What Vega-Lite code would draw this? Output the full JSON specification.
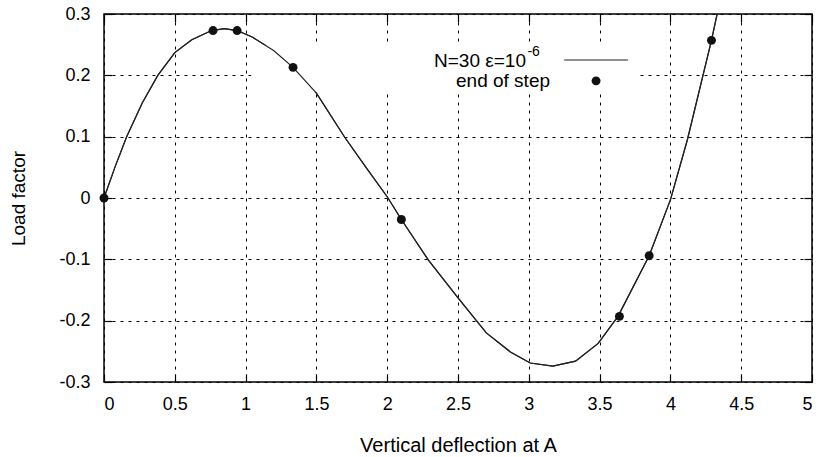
{
  "$schema": "https://vega.github.io/schema/vega-lite/v6.json",
  "width": 708,
  "height": 368,
  "autosize": "none",
  "padding": {"left": 104, "top": 14, "right": 6, "bottom": 75},
  "background": "white",
  "config": {
    "font": "Liberation Sans",
    "view": {"stroke": "black", "strokeWidth": 1.5},
    "axis": {
      "labelFont": "Liberation Sans",
      "titleFont": "Liberation Sans",
      "labelFontSize": 18,
      "titleFontSize": 19,
      "titleFontWeight": "normal",
      "labelColor": "black",
      "titleColor": "black",
      "domain": false,
      "tickColor": "black",
      "tickSize": -8,
      "tickWidth": 1.2,
      "grid": true,
      "gridColor": "black",
      "gridDash": [3, 5],
      "gridWidth": 1,
      "gridOpacity": 1
    }
  },
  "resolve": {"axis": {"x": "independent", "y": "independent"}},
  "datasets": {
    "curve": [
      {"d": 0, "lf": 0},
      {"d": 0.08, "lf": 0.052},
      {"d": 0.16, "lf": 0.1},
      {"d": 0.27, "lf": 0.155},
      {"d": 0.38, "lf": 0.2},
      {"d": 0.5, "lf": 0.237},
      {"d": 0.62, "lf": 0.258},
      {"d": 0.76, "lf": 0.273},
      {"d": 0.85, "lf": 0.276},
      {"d": 0.94, "lf": 0.273},
      {"d": 1.05, "lf": 0.262},
      {"d": 1.2, "lf": 0.24},
      {"d": 1.335, "lf": 0.213},
      {"d": 1.5, "lf": 0.171},
      {"d": 1.7, "lf": 0.099},
      {"d": 1.85, "lf": 0.05},
      {"d": 2.0, "lf": 0.002},
      {"d": 2.1, "lf": -0.035},
      {"d": 2.29, "lf": -0.101},
      {"d": 2.5, "lf": -0.163},
      {"d": 2.7, "lf": -0.22},
      {"d": 2.87, "lf": -0.251},
      {"d": 3.01, "lf": -0.269},
      {"d": 3.17, "lf": -0.274},
      {"d": 3.33, "lf": -0.266},
      {"d": 3.49, "lf": -0.237},
      {"d": 3.63, "lf": -0.193},
      {"d": 3.85, "lf": -0.094},
      {"d": 4.0, "lf": -0.003},
      {"d": 4.12, "lf": 0.095},
      {"d": 4.29, "lf": 0.257},
      {"d": 4.33, "lf": 0.3}
    ],
    "steps": [
      {"d": 0, "lf": 0},
      {"d": 0.77, "lf": 0.273},
      {"d": 0.94, "lf": 0.273},
      {"d": 1.335, "lf": 0.213},
      {"d": 2.1, "lf": -0.035},
      {"d": 3.64, "lf": -0.193},
      {"d": 3.85, "lf": -0.094},
      {"d": 4.29, "lf": 0.257}
    ],
    "keyBox": [{"x1": 1.04, "x2": 3.78, "y1": 0.249, "y2": 0.173}],
    "legendLine": [{"x1": 3.25, "x2": 3.7, "y": 0.225}],
    "legendDot": [{"x": 3.475, "y": 0.191}],
    "legendText": [
      {"x": 2.98, "y": 0.2137, "t": "N=30 ε=10"},
      {"x": 3.15, "y": 0.181, "t": "end of step"}
    ],
    "legendSup": [{"x": 2.99, "y": 0.232, "t": "-6"}]
  },
  "layer": [
    {
      "data": {"name": "curve"},
      "mark": {"type": "line", "color": "#222", "strokeWidth": 1.2, "clip": true},
      "encoding": {
        "x": {
          "field": "d", "type": "quantitative",
          "scale": {"domain": [0, 5], "nice": false, "zero": false},
          "axis": {
            "title": "Vertical deflection at A",
            "titleFontSize": 20,
            "values": [0, 0.5, 1, 1.5, 2, 2.5, 3, 3.5, 4, 4.5, 5],
            "labelExpr": "format(datum.value, '~g')",
            "labelPadding": 21,
            "titlePadding": 22
          }
        },
        "y": {
          "field": "lf", "type": "quantitative",
          "scale": {"domain": [-0.3, 0.3], "nice": false, "zero": false},
          "axis": {
            "title": "Load factor",
            "values": [-0.3, -0.2, -0.1, 0, 0.1, 0.2, 0.3],
            "labelExpr": "replace(format(datum.value, '~g'), '\u2212', '-')",
            "labelPadding": 22,
            "titlePadding": 30
          }
        }
      }
    },
    {
      "data": {"name": "keyBox"},
      "mark": {"type": "rect", "color": "white", "opacity": 1},
      "encoding": {
        "x": {"field": "x1", "type": "quantitative", "axis": null},
        "x2": {"field": "x2"},
        "y": {"field": "y1", "type": "quantitative", "axis": null},
        "y2": {"field": "y2"}
      }
    },
    {
      "data": {"name": "curve"},
      "mark": {"type": "line", "color": "#222", "strokeWidth": 1.2, "clip": true},
      "encoding": {
        "x": {"field": "d", "type": "quantitative", "axis": null},
        "y": {"field": "lf", "type": "quantitative", "axis": null}
      }
    },
    {
      "data": {"name": "steps"},
      "mark": {"type": "point", "filled": true, "color": "#111", "opacity": 1, "size": 80},
      "encoding": {
        "x": {"field": "d", "type": "quantitative", "axis": {"orient": "top", "labels": false, "title": null, "grid": false, "values": [0, 0.5, 1, 1.5, 2, 2.5, 3, 3.5, 4, 4.5, 5]}},
        "y": {"field": "lf", "type": "quantitative", "axis": {"orient": "right", "labels": false, "title": null, "grid": false, "values": [-0.3, -0.2, -0.1, 0, 0.1, 0.2, 0.3]}}
      }
    },
    {
      "data": {"name": "legendLine"},
      "mark": {"type": "rule", "color": "#222", "strokeWidth": 1.2},
      "encoding": {
        "x": {"field": "x1", "type": "quantitative", "axis": null},
        "x2": {"field": "x2"},
        "y": {"field": "y", "type": "quantitative", "axis": null}
      }
    },
    {
      "data": {"name": "legendDot"},
      "mark": {"type": "point", "filled": true, "color": "#111", "opacity": 1, "size": 80},
      "encoding": {
        "x": {"field": "x", "type": "quantitative", "axis": null},
        "y": {"field": "y", "type": "quantitative", "axis": null}
      }
    },
    {
      "data": {"name": "legendText"},
      "mark": {"type": "text", "align": "right", "baseline": "alphabetic", "fontSize": 19, "font": "Liberation Sans", "color": "black"},
      "encoding": {
        "x": {"field": "x", "type": "quantitative", "axis": null},
        "y": {"field": "y", "type": "quantitative", "axis": null},
        "text": {"field": "t"}
      }
    },
    {
      "data": {"name": "legendSup"},
      "mark": {"type": "text", "align": "left", "baseline": "alphabetic", "fontSize": 14, "font": "Liberation Sans", "color": "black"},
      "encoding": {
        "x": {"field": "x", "type": "quantitative", "axis": null},
        "y": {"field": "y", "type": "quantitative", "axis": null},
        "text": {"field": "t"}
      }
    }
  ]
}
